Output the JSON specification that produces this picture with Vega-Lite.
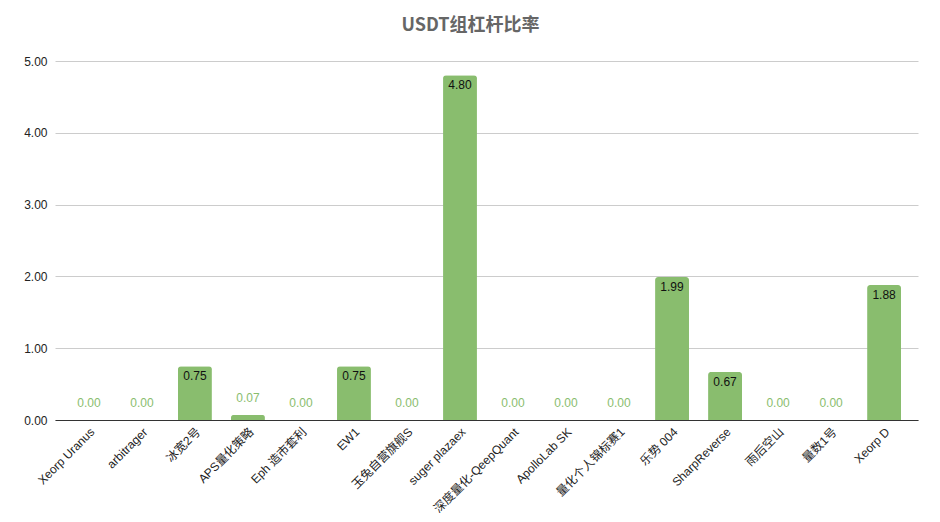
{
  "$schema": "https://vega.github.io/schema/vega-lite/v6.json",
  "autosize": {"type": "none"},
  "width": 863,
  "height": 359,
  "padding": {"left": 55, "top": 61, "right": 22, "bottom": 102},
  "background": "white",
  "config": {"view": {"stroke": null}},
  "title": {
    "text": "USDT组杠杆比率",
    "font": "Noto Sans CJK SC",
    "fontSize": 18,
    "fontWeight": "bold",
    "color": "#666666",
    "anchor": "middle",
    "dx": -16,
    "offset": 20
  },
  "data": {
    "values": [
      {"name": "Xeorp Uranus", "v": 0.0},
      {"name": "arbitrager", "v": 0.0},
      {"name": "冰宽2号", "v": 0.75},
      {"name": "APS量化策略", "v": 0.07},
      {"name": "Eph 造市套利", "v": 0.0},
      {"name": "EW1", "v": 0.75},
      {"name": "玉兔自营旗舰S", "v": 0.0},
      {"name": "suger plazaex", "v": 4.8},
      {"name": "深度量化-QeepQuant", "v": 0.0},
      {"name": "ApolloLab SK", "v": 0.0},
      {"name": "量化个人锦标赛1", "v": 0.0},
      {"name": "乐势 004", "v": 1.99},
      {"name": "SharpReverse", "v": 0.67},
      {"name": "雨后空山", "v": 0.0},
      {"name": "量数1号", "v": 0.0},
      {"name": "Xeorp D", "v": 1.88}
    ]
  },
  "encoding": {
    "x": {
      "field": "name",
      "type": "nominal",
      "sort": null,
      "title": null,
      "scale": {"paddingInner": 0.36, "paddingOuter": 0.32},
      "axis": {
        "labelAngle": -45,
        "labelAlign": "right",
        "labelBaseline": "top",
        "labelFont": "Liberation Sans, Noto Sans CJK SC",
        "labelFontSize": 12,
        "labelColor": "#222222",
        "ticks": false,
        "domainColor": "#333333",
        "domainWidth": 1,
        "labelPadding": 6,
        "zindex": 1
      }
    },
    "y": {
      "field": "v",
      "type": "quantitative",
      "title": null,
      "scale": {"domain": [0, 5], "nice": false},
      "axis": {
        "values": [0, 1, 2, 3, 4, 5],
        "format": ".2f",
        "labelFont": "Liberation Sans",
        "labelFontSize": 12,
        "labelColor": "#222222",
        "ticks": false,
        "domain": false,
        "gridColor": "#cccccc",
        "labelPadding": 8
      }
    }
  },
  "layer": [
    {
      "mark": {"type": "bar", "color": "#89bd6e", "cornerRadiusTopLeft": 3, "cornerRadiusTopRight": 3}
    },
    {
      "transform": [{"filter": "datum.v >= 0.3"}],
      "mark": {"type": "text", "baseline": "middle", "dy": 10, "font": "Liberation Sans", "fontSize": 12, "color": "#111111"},
      "encoding": {"text": {"field": "v", "type": "quantitative", "format": ".2f"}}
    },
    {
      "transform": [{"filter": "datum.v < 0.3"}],
      "mark": {"type": "text", "baseline": "middle", "dy": -17, "font": "Liberation Sans", "fontSize": 12, "color": "#89bd6e"},
      "encoding": {"text": {"field": "v", "type": "quantitative", "format": ".2f"}}
    }
  ]
}
